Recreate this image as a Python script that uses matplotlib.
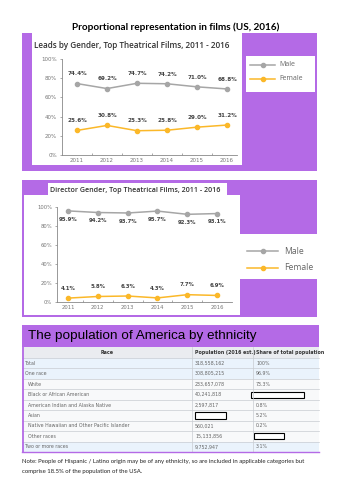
import matplotlib.pyplot as plt
from matplotlib.patches import Rectangle
from matplotlib.ticker import MultipleLocator, FixedLocator

# chart data
years = [2011, 2012, 2013, 2014, 2015, 2016]
leads_male = [74.4, 69.2, 74.7, 74.2, 71.0, 68.8]
leads_female = [25.6, 30.8, 25.3, 25.8, 29.0, 31.2]
director_male = [95.9, 94.2, 93.7, 95.7, 92.3, 93.1]
director_female = [4.1, 5.8, 6.3, 4.3, 7.7, 6.9]

# table data
table_header = ["Race", "Population (2016 est.)", "Share of total population"]
races = ["Total", "One race", "White", "Black or African American",
         "American Indian and Alaska Native", "Asian",
         "Native Hawaiian and Other Pacific Islander", "Other races",
         "Two or more races"]
populations = ["318,558,162", "308,805,215", "233,657,078", "40,241,818",
               "2,597,817", "", "560,021", "15,133,856", "9,752,947"]
shares = ["100%", "96.9%", "73.3%", "", "0.8%", "5.2%", "0.2%", "", "3.1%"]

W, H = 353, 500
PURPLE = '#b46ae6'
GREY = '#a6a6a6'
ORANGE = '#fbb829'
TXT = '#444444'

fig = plt.figure(figsize=(W / 100, H / 100), dpi=100)
fig.patch.set_facecolor('white')

bg = fig.add_axes([0, 0, 1, 1])
bg.set_xlim(0, W)
bg.set_ylim(H, 0)
bg.axis('off')


def box(x, y, w, h, color, **kw):
    bg.add_patch(Rectangle((x, y), w, h, facecolor=color, edgecolor='none', **kw))


def px_axes(x0, y0, x1, y1):
    return fig.add_axes([x0 / W, 1 - y1 / H, (x1 - x0) / W, (y1 - y0) / H])


bg.text(176, 27, "Proportional representation in films (US, 2016)",
        family='Lato', fontweight='bold', fontsize=7.2, ha='center', va='center')

# ---- chart 1 frame
box(22, 33, 295, 138, PURPLE)
box(32, 33, 210, 132, 'white')
box(246, 56, 69, 36, 'white')
bg.text(34, 45, "Leads by Gender, Top Theatrical Films, 2011 - 2016",
        family='Open Sans', fontweight='semibold', fontsize=5.9, color='#333333', va='center')

# ---- chart 2 frame
box(22, 180, 295, 137, PURPLE)
box(24, 195, 216, 120, 'white')
box(48, 183, 179, 13, 'white')
box(240, 234, 77, 45, 'white')
bg.text(50, 190.5, "Director Gender, Top Theatrical Films, 2011 - 2016",
        family='Open Sans', fontweight='semibold', fontsize=5.1, color='#333333', va='center')


def line_chart(ax, male, female, xlim, male_below, fs_tick, fs_lab):
    ax.set_facecolor('none')
    ax.plot(years, male, color=GREY, lw=1.1, marker='o', ms=3)
    ax.plot(years, female, color=ORANGE, lw=1.1, marker='o', ms=3)
    for x, m, f in zip(years, male, female):
        dy = -6 if male_below else 7
        ax.annotate(f"{m:.1f}%", (x, m), xytext=(0, dy), textcoords='offset points',
                    ha='center', va='center', fontsize=fs_lab, color=TXT, fontweight='bold')
        ax.annotate(f"{f:.1f}%", (x, f), xytext=(0, 7), textcoords='offset points',
                    ha='center', va='center', fontsize=fs_lab, color=TXT, fontweight='bold')
    ax.set_xlim(*xlim)
    ax.set_ylim(0, 100)
    ax.yaxis.set_major_locator(MultipleLocator(20))
    ax.set_yticks(ax.get_yticks())
    ax.set_yticklabels([f"{int(t)}%" for t in ax.get_yticks()])
    ax.set_ylim(0, 100)
    ax.set_xticks(years)
    ax.xaxis.set_minor_locator(FixedLocator([y + 0.5 for y in years[:-1]]))
    for s in ['top', 'right']:
        ax.spines[s].set_visible(False)
    for s in ['left', 'bottom']:
        ax.spines[s].set_color('#888888')
        ax.spines[s].set_linewidth(0.6)
    ax.tick_params(axis='y', length=1.5, width=0.5, color='#888888', pad=2,
                   labelsize=fs_tick, labelcolor='#777777')
    ax.tick_params(axis='x', which='major', length=0, pad=2.5,
                   labelsize=fs_tick, labelcolor='#777777')
    ax.tick_params(axis='x', which='minor', length=1.5, width=0.5,
                   direction='in', color='#888888')


ax1 = px_axes(62, 59, 237, 155)
line_chart(ax1, leads_male, leads_female, (2010.5, 2016.33), False, 4.0, 4.1)

ax2 = px_axes(57, 207, 232, 302)
line_chart(ax2, director_male, director_female, (2010.63, 2016.5), True, 3.8, 3.9)


def legend_entry(x0, x1, y, label, color, tx, fs):
    bg.plot([x0, x1], [y, y], color=color, lw=1.1)
    bg.plot([(x0 + x1) / 2], [y], 'o', color=color, ms=3)
    bg.text(tx, y, label, fontsize=fs, color='#666666', va='center', family='Open Sans')


legend_entry(250, 275, 65, "Male", GREY, 279, 5.0)
legend_entry(250, 275, 79, "Female", ORANGE, 279, 5.0)
legend_entry(247, 278, 251, "Male", GREY, 284, 6.2)
legend_entry(247, 278, 268, "Female", ORANGE, 284, 6.2)

# ---- table
box(22, 325, 297, 22, PURPLE)
bg.text(28, 336, "The population of America by ethnicity",
        family='Liberation Sans', fontsize=9.7, va='center', color='black')

col_x = [22, 192, 253, 319]
head_top, head_h = 347, 11
row_h = 10.45
rows_top = head_top + head_h
for i in range(3):
    box(col_x[i], head_top, col_x[i + 1] - col_x[i], head_h, '#eaecf0')
bg.text((col_x[0] + col_x[1]) / 2, head_top + head_h / 2, table_header[0],
        ha='center', va='center', fontsize=3.4, fontweight='bold', color='#333333')
bg.text(col_x[1] + 3, head_top + head_h / 2, table_header[1],
        va='center', fontsize=3.4, fontweight='bold', color='#333333')
bg.text(col_x[2] + 3, head_top + head_h / 2, table_header[2],
        va='center', fontsize=3.4, fontweight='bold', color='#333333', clip_on=True)

blue_rows = {0, 1, 8}
for i, (race, pop, share) in enumerate(zip(races, populations, shares)):
    y = rows_top + i * row_h
    color = '#eaf3fc' if i in blue_rows else '#f8f9fa'
    box(col_x[0], y, col_x[3] - col_x[0], row_h, color)
    indent = 3 if i in blue_rows else 6
    cy = y + row_h / 2
    bg.text(col_x[0] + indent, cy, race, va='center', fontsize=3.4, color='#666666')
    if pop:
        bg.text(col_x[1] + 3, cy, pop, va='center', fontsize=3.4, color='#666666')
    else:
        bg.add_patch(Rectangle((col_x[1] + 3, cy - 3.5), 31, 7, facecolor='white',
                               edgecolor='black', lw=0.8))
    if share:
        bg.text(col_x[2] + 3, cy, share, va='center', fontsize=3.4, color='#666666')
    else:
        wbox = 53 if i == 3 else 30
        xb = col_x[2] - 2 if i == 3 else col_x[2] + 1
        bg.add_patch(Rectangle((xb, cy - 3), wbox, 6, facecolor='white',
                               edgecolor='black', lw=0.8))

# grid lines
table_bot = rows_top + len(races) * row_h
for i in range(len(races) + 1):
    yy = rows_top + i * row_h
    bg.plot([22, 319], [yy, yy], color='#c8ccd1', lw=0.5)
for xx in col_x[1:3]:
    bg.plot([xx, xx], [head_top, table_bot], color='#c8ccd1', lw=0.5)
bg.plot([23, 23], [head_top, table_bot], color=PURPLE, lw=1.3)
bg.plot([22, 319], [table_bot, table_bot], color=PURPLE, lw=1.0)

bg.text(22, 462, "Note: People of Hispanic / Latino origin may be of any ethnicity, "
        "so are included in applicable categories but",
        family='Lato', fontsize=4.3, va='center', color='#222222')
bg.text(22, 471, "comprise 18.5% of the population of the USA.",
        family='Lato', fontsize=4.3, va='center', color='#222222')

fig.savefig('out.png', dpi=100)
